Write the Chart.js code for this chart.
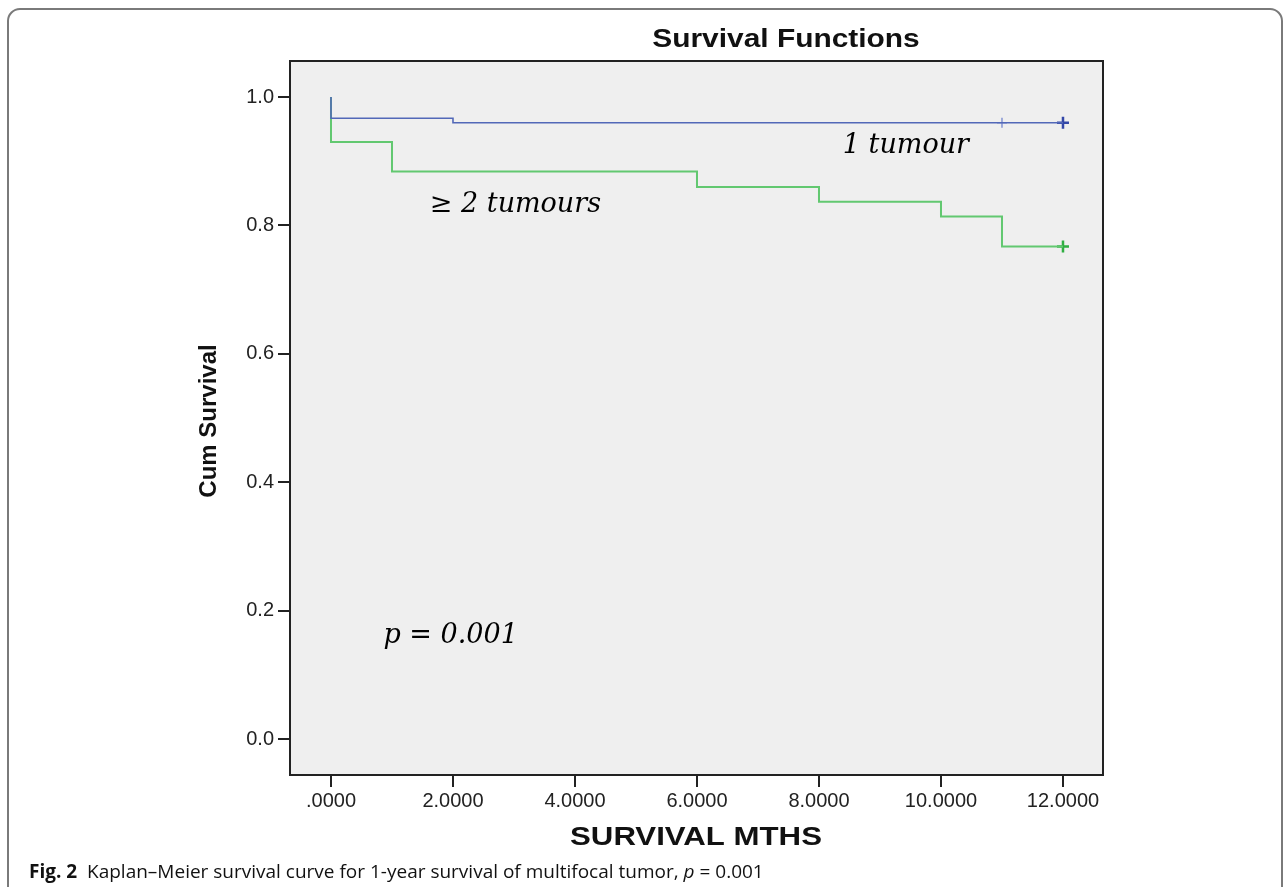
<!DOCTYPE html>
<html>
<head>
<meta charset="utf-8">
<script src="https://cdn.jsdelivr.net/npm/chart.js@4/dist/chart.umd.min.js"></script>
<style>
  html, body { margin: 0; padding: 0; background: #fff; }
  #wrap { position: relative; width: 1284px; height: 887px; }
</style>
</head>
<body>
<div id="wrap"><canvas id="km" width="1284" height="887"></canvas></div>
<script>
// Kaplan-Meier 데이터
const oneTumourTimes = [0, 0, 2, 12];
const oneTumourSurv = [1.0, 0.967, 0.960, 0.960];
const multiTumourTimes = [0, 0, 1, 6, 8, 10, 11, 12];
const multiTumourSurv = [1.0, 0.930, 0.884, 0.860, 0.837, 0.814, 0.767, 0.767];

// 중도절단 표시
const oneCensorTimes = [11, 12];
const oneCensorSurv = [0.960, 0.960];
const multiCensorTimes = [12];
const multiCensorSurv = [0.767];

// 축 눈금
const xTicks = [0, 2, 4, 6, 8, 10, 12];
const yTicks = [0, 0.2, 0.4, 0.6, 0.8, 1.0];

// 그림 안 주석
const noteText = ['1 tumour', '\u2265 2 tumours', 'p = 0.001'];
const noteX = [8.39, 1.62, 0.86];
const noteY = [0.924, 0.832, 0.160];

const BLUE = '#5268b8';
const GREEN = '#62c870';

function toPoints(xs, ys) {
  return xs.map((x, i) => ({ x: x, y: ys[i] }));
}

function fmtX(v) {
  const s = v.toFixed(4);
  return v === 0 ? s.slice(1) : s;
}

// 가로로 약간 늘린 텍스트
function wideText(ctx, text, x, y, sx) {
  ctx.save();
  ctx.translate(x, y);
  ctx.scale(sx, 1);
  ctx.fillText(text, 0, 0);
  ctx.restore();
}

// 배경, 테두리, 제목, 주석, 캡션
const decor = {
  id: 'decor',
  beforeDraw(chart) {
    const { ctx, chartArea: a } = chart;
    ctx.save();
    ctx.fillStyle = '#efefef';
    ctx.fillRect(a.left, a.top, a.right - a.left, a.bottom - a.top);

    // 바깥 둥근 테두리
    ctx.strokeStyle = '#7a7a7a';
    ctx.lineWidth = 2;
    ctx.beginPath();
    ctx.roundRect(8, 9, 1274, 920, 12);
    ctx.stroke();
    ctx.restore();
  },
  afterDraw(chart) {
    const { ctx, chartArea: a, scales } = chart;
    ctx.save();
    ctx.strokeStyle = '#222';
    ctx.lineWidth = 2;
    ctx.strokeRect(a.left, a.top, a.right - a.left, a.bottom - a.top);

    ctx.fillStyle = '#111';
    ctx.textBaseline = 'middle';
    ctx.textAlign = 'center';
    ctx.font = 'bold 26px "Liberation Sans", Arial, sans-serif';
    wideText(ctx, 'Survival Functions', 786, 40, 1.15);

    ctx.font = 'bold 26px "Liberation Sans", Arial, sans-serif';
    wideText(ctx, 'SURVIVAL MTHS', 696, 838, 1.2);

    ctx.save();
    ctx.translate(209, 421);
    ctx.rotate(-Math.PI / 2);
    ctx.font = 'bold 24px "Liberation Sans", Arial, sans-serif';
    ctx.fillText('Cum Survival', 0, 0);
    ctx.restore();

    ctx.textAlign = 'left';
    ctx.fillStyle = '#000';
    ctx.font = 'italic 27px "DejaVu Serif", serif';
    noteText.forEach((t, i) => {
      ctx.fillText(t, scales.x.getPixelForValue(noteX[i]), scales.y.getPixelForValue(noteY[i]));
    });

    // 캡션
    ctx.fillStyle = '#111';
    ctx.textBaseline = 'alphabetic';
    let cx = 29;
    const cy = 878;
    const parts = [
      ['bold 19px "Open Sans", sans-serif', 'Fig. 2'],
      ['19px "Open Sans", sans-serif', '  Kaplan\u2013Meier survival curve for 1-year survival of multifocal tumor, '],
      ['italic 19px "Open Sans", sans-serif', 'p'],
      ['19px "Open Sans", sans-serif', ' = 0.001']
    ];
    parts.forEach(([font, text]) => {
      ctx.font = font;
      ctx.fillText(text, cx, cy);
      cx += ctx.measureText(text).width;
    });
    ctx.restore();
  }
};

new Chart(document.getElementById('km'), {
  type: 'scatter',
  data: {
    datasets: [
      {
        label: '1 tumour',
        data: toPoints(oneTumourTimes, oneTumourSurv),
        showLine: true,
        stepped: 'before',
        borderColor: BLUE,
        borderWidth: 1.6,
        pointRadius: 0
      },
      {
        label: '>= 2 tumours',
        data: toPoints(multiTumourTimes, multiTumourSurv),
        showLine: true,
        stepped: 'before',
        borderColor: GREEN,
        borderWidth: 2,
        pointRadius: 0
      },
      {
        label: '1 tumour censored',
        data: toPoints(oneCensorTimes, oneCensorSurv),
        pointStyle: 'cross',
        pointRadius: [5, 6],
        pointBorderColor: ['#8494d2', '#3347a8'],
        pointBorderWidth: [1.5, 2.5]
      },
      {
        label: '>= 2 tumours censored',
        data: toPoints(multiCensorTimes, multiCensorSurv),
        pointStyle: 'cross',
        pointRadius: 6,
        pointBorderColor: '#2fae42',
        pointBorderWidth: 2.5
      }
    ]
  },
  options: {
    responsive: false,
    animation: false,
    layout: { padding: { left: 0, right: 181, top: 61, bottom: 0 } },
    plugins: {
      legend: { display: false },
      tooltip: { enabled: false }
    },
    scales: {
      x: {
        type: 'linear',
        min: -0.672,
        max: 12.656,
        afterBuildTicks: (s) => { s.ticks = xTicks.map((v) => ({ value: v })); },
        afterFit: (s) => { s.height = 112; },
        ticks: {
          callback: (v) => fmtX(v),
          color: '#222',
          font: { family: '"Liberation Sans", Arial, sans-serif', size: 20 },
          padding: 2,
          maxRotation: 0
        },
        grid: { display: true, drawOnChartArea: false, drawTicks: true, tickLength: 12, color: '#222', lineWidth: 2 },
        border: { display: true, color: '#222', width: 2 }
      },
      y: {
        type: 'linear',
        min: -0.0561,
        max: 1.0561,
        afterBuildTicks: (s) => { s.ticks = yTicks.map((v) => ({ value: v })); },
        afterFit: (s) => { s.width = 290; },
        ticks: {
          callback: (v) => v.toFixed(1),
          color: '#222',
          font: { family: '"Liberation Sans", Arial, sans-serif', size: 20 },
          padding: 4
        },
        grid: { display: true, drawOnChartArea: false, drawTicks: true, tickLength: 12, color: '#222', lineWidth: 2 },
        border: { display: true, color: '#222', width: 2 }
      }
    }
  },
  plugins: [decor]
});
</script>
</body>
</html>
